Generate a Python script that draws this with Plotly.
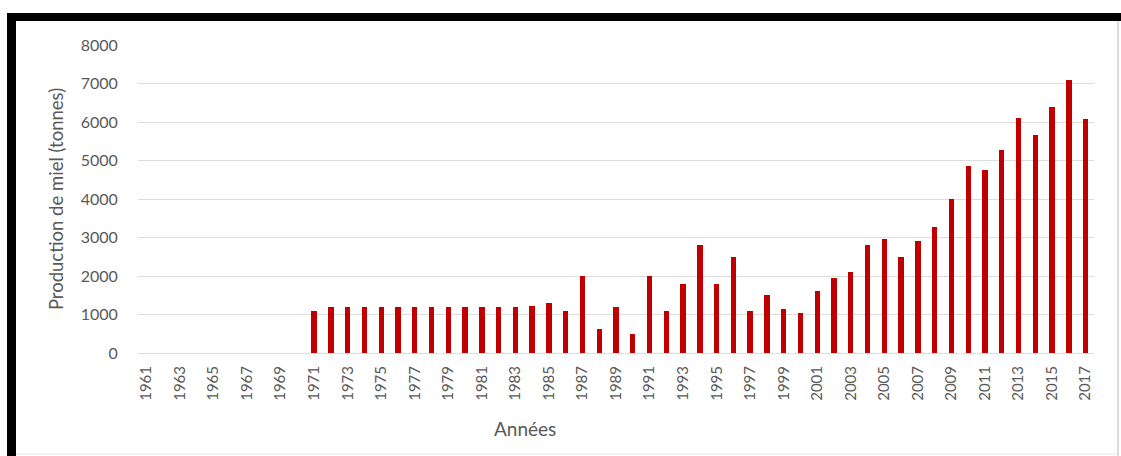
import plotly.graph_objects as go

# Annual honey production (tonnes), 1961-2017
years = list(range(1961, 2018))
production = [
    0, 0, 0, 0, 0, 0, 0, 0, 0, 0,            # 1961-1970
    1100, 1200, 1200, 1200, 1200, 1200, 1200, 1200, 1200, 1200,  # 1971-1980
    1200, 1200, 1200, 1230, 1300, 1100, 2000, 630, 1200, 500,    # 1981-1990
    2000, 1100, 1800, 2800, 1800, 2500, 1100, 1500, 1150, 1050,  # 1991-2000
    1600, 1950, 2100, 2800, 2950, 2500, 2920, 3280, 4000, 4850,  # 2001-2010
    4750, 5280, 6100, 5670, 6380, 7100, 6080,                    # 2011-2017
]
tick_years = [y for y in years if (y - 1961) % 2 == 0]
y_ticks = [0, 1000, 2000, 3000, 4000, 5000, 6000, 7000, 8000]

W, H = 1121, 456
ML, MR, MT, MB = 138, 27, 45, 103
PW, PH = W - ML - MR, H - MT - MB

def px(x):
    return (x - ML) / PW

def py(y):
    return (H - MB - y) / PH

FONT = "Lato"
GREY = "#595959"

fig = go.Figure(
    go.Bar(
        x=years,
        y=production,
        width=0.32,
        marker=dict(color="#C00000", line=dict(width=0)),
    )
)

shapes = [
    # black frame around the chart
    dict(type="rect", xref="paper", yref="paper",
         x0=px(7), x1=px(1121), y0=py(21), y1=py(13),
         fillcolor="black", line=dict(width=0), layer="above"),
    dict(type="rect", xref="paper", yref="paper",
         x0=px(7), x1=px(16), y0=py(456), y1=py(13),
         fillcolor="black", line=dict(width=0), layer="above"),
    dict(type="line", xref="paper", yref="paper",
         x0=px(1118), x1=px(1118), y0=py(456), y1=py(21),
         line=dict(color="#D0D0D0", width=1.5)),
    dict(type="line", xref="paper", yref="paper",
         x0=px(16), x1=px(1118), y0=py(454), y1=py(454),
         line=dict(color="#E6E6E6", width=1)),
]

fig.update_layout(
    width=W, height=H,
    margin=dict(l=ML, r=MR, t=MT, b=MB),
    paper_bgcolor="white",
    plot_bgcolor="white",
    showlegend=False,
    bargap=0,
    shapes=shapes,
    font=dict(family=FONT, color=GREY),
    annotations=[
        dict(text="Années", xref="paper", yref="paper",
             x=px(525), y=py(428), xanchor="center", yanchor="middle",
             showarrow=False, font=dict(family=FONT, size=19, color=GREY)),
    ],
)

fig.update_xaxes(
    range=[1960.5, 2017.5],
    tickmode="array",
    tickvals=tick_years,
    ticktext=[str(y) for y in tick_years],
    tickangle=-90,
    tickfont=dict(family=FONT, size=15, color=GREY),
    showgrid=False,
    zeroline=False,
    showline=False,
    ticks="outside",
    ticklen=6,
    tickcolor="rgba(0,0,0,0)",
)

fig.update_yaxes(
    range=[0, 8000],
    tickmode="array",
    tickvals=y_ticks,
    ticktext=[str(v) for v in y_ticks],
    tickfont=dict(family=FONT, size=16, color=GREY),
    showgrid=True,
    gridcolor="#DDDDDD",
    gridwidth=1,
    zeroline=True,
    zerolinecolor="#DDDDDD",
    zerolinewidth=1,
    showline=False,
    ticks="outside",
    ticklen=16,
    tickcolor="rgba(0,0,0,0)",
    title=dict(text="Production de miel (tonnes)",
               font=dict(family=FONT, size=18.5, color=GREY),
               standoff=12),
)

fig.write_html("out.html")
